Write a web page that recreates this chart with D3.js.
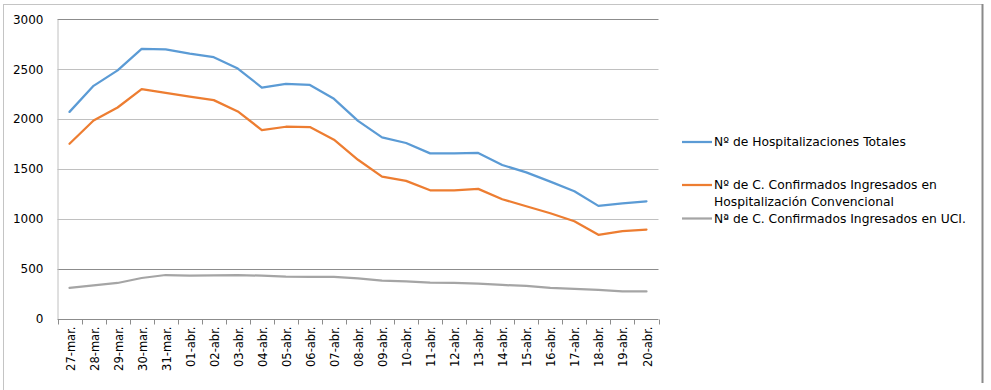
<!DOCTYPE html>
<html>
<head>
<meta charset="utf-8">
<script src="https://cdn.jsdelivr.net/npm/d3@7"></script>
<style>
html,body{margin:0;padding:0;background:#fff;}
svg{display:block;}
text{font-family:"DejaVu Sans",sans-serif;fill:#000;}
</style>
</head>
<body>
<svg id="chart" width="991" height="390"></svg>
<script>
const categories = ["27-mar.","28-mar.","29-mar.","30-mar.","31-mar.","01-abr.","02-abr.","03-abr.","04-abr.","05-abr.","06-abr.","07-abr.","08-abr.","09-abr.","10-abr.","11-abr.","12-abr.","13-abr.","14-abr.","15-abr.","16-abr.","17-abr.","18-abr.","19-abr.","20-abr."];
const totales = [2072,2333,2488,2703,2698,2655,2620,2506,2316,2352,2342,2203,1982,1816,1760,1656,1656,1660,1540,1466,1373,1276,1130,1156,1176];
const convencional = [1753,1986,2116,2300,2263,2226,2190,2076,1890,1923,1920,1793,1592,1423,1380,1286,1286,1300,1196,1126,1056,976,840,876,893];
const uci = [307,333,357,407,437,430,433,437,430,420,417,417,402,380,373,360,357,350,337,327,307,297,287,272,272];
const yTicks = [0,500,1000,1500,2000,2500,3000];
const seriesNames = ["Nº de Hospitalizaciones Totales","Nº de C. Confirmados Ingresados en|Hospitalización Convencional","Nª de C. Confirmados Ingresados en UCI."];
const seriesColors = ["#5b9bd5","#ed7d31","#a5a5a5"];

const svg = d3.select("#chart");
const plotLeft = 57.5, plotRight = 658.5, plotTop = 19.3, plotBottom = 318.6;

const x = d3.scaleBand().domain(categories).range([plotLeft, plotRight]).padding(0);
const y = d3.scaleLinear().domain([0, 3000]).range([plotBottom, plotTop]);

// outer frame
svg.append("line").attr("x1",3).attr("x2",983).attr("y1",4.5).attr("y2",4.5).attr("stroke","#c4c4c4").attr("stroke-width",1);
svg.append("line").attr("x1",3.5).attr("x2",3.5).attr("y1",4).attr("y2",390).attr("stroke","#c4c4c4").attr("stroke-width",1);
svg.append("line").attr("x1",982.5).attr("x2",982.5).attr("y1",4).attr("y2",383).attr("stroke","#8a8a8a").attr("stroke-width",2);

// gridlines
svg.append("g").selectAll("line").data(yTicks.filter(d => d > 0)).join("line")
  .attr("x1", plotLeft).attr("x2", plotRight)
  .attr("y1", d => Math.round(y(d)) + 0.5).attr("y2", d => Math.round(y(d)) + 0.5)
  .attr("stroke", d => (d === 500 || d === 3000) ? "#8c8c8c" : "#c0c0c0")
  .attr("stroke-width", 1);

// y axis
const yAxis = d3.axisLeft(y).tickValues(yTicks).tickFormat(d3.format("d")).tickSize(0).tickPadding(14);
const gy = svg.append("g").attr("transform", `translate(${plotLeft},0)`).call(yAxis);
gy.select(".domain").attr("stroke","#c0c0c0");
gy.selectAll("text").attr("font-size","12px").attr("font-family","DejaVu Sans").attr("fill","#000");

// x axis
const gx = svg.append("g").attr("transform", `translate(0,${Math.round(plotBottom)+0.5})`);
gx.append("line").attr("x1", plotLeft).attr("x2", plotRight).attr("stroke","#8c8c8c");
const bounds = categories.map(c => x(c)).concat([plotRight]);
gx.selectAll("line.tk").data(bounds).join("line").attr("class","tk")
  .attr("x1", d => Math.round(d)+0.5).attr("x2", d => Math.round(d)+0.5)
  .attr("y1", 0).attr("y2", 5).attr("stroke","#8c8c8c");
gx.selectAll("text").data(categories).join("text")
  .attr("transform", d => `translate(${x(d) + x.bandwidth()/2 + 1},7) rotate(-90)`)
  .attr("text-anchor","end").attr("dy","0.35em")
  .attr("font-size","11.5px")
  .text(d => d);

// lines
const line = d3.line().x((d,i) => x(categories[i]) + x.bandwidth()/2).y(d => y(d));
[totales, convencional, uci].forEach((s, k) => {
  svg.append("path").datum(s).attr("d", line)
    .attr("fill","none").attr("stroke", seriesColors[k])
    .attr("stroke-width", 2.25)
    .attr("stroke-linejoin","round").attr("stroke-linecap","round");
});

// legend
const legendY = [142, 185, 218.5];
seriesNames.forEach((name, k) => {
  const g = svg.append("g");
  g.append("line").attr("x1",682).attr("x2",712).attr("y1",legendY[k]).attr("y2",legendY[k])
    .attr("stroke", seriesColors[k]).attr("stroke-width",2.25);
  const parts = name.split("|");
  parts.forEach((p, j) => {
    g.append("text").attr("x",714).attr("y",legendY[k] + j*16.7).attr("dy","0.35em")
      .attr("font-size","12.3px").text(p);
  });
});
</script>
</body>
</html>
